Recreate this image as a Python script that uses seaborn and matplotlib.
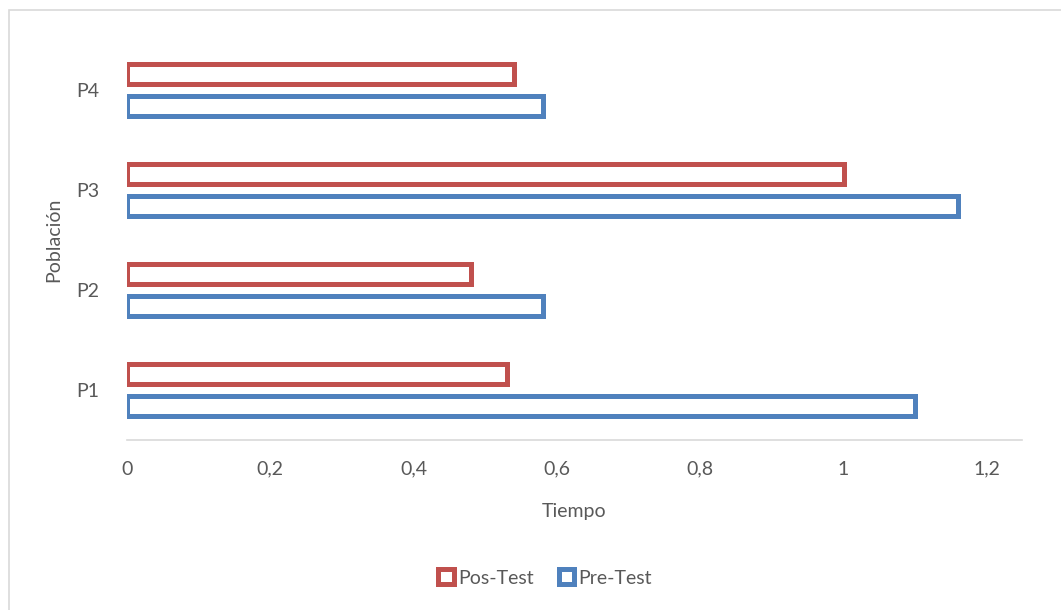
import numpy as np
import pandas as pd
import seaborn as sns
import matplotlib.pyplot as plt
from matplotlib.patches import Rectangle

poblacion = ["P4", "P3", "P2", "P1"]
pre_test = [0.58, 1.16, 0.58, 1.10]
pos_test = [0.54, 1.00, 0.48, 0.53]
xticks = [0, 0.2, 0.4, 0.6, 0.8, 1.0, 1.2]
xtick_labels = ["0", "0,2", "0,4", "0,6", "0,8", "1", "1,2"]

df = pd.DataFrame({
    "Población": poblacion * 2,
    "Tiempo": pos_test + pre_test,
    "Serie": ["Pos-Test"] * 4 + ["Pre-Test"] * 4,
})

sns.set_style("white")
plt.rcParams["font.family"] = ["Lato", "DejaVu Sans"]
gray = "#595959"
fs = 14

fig = plt.figure(figsize=(10.61, 6.10), dpi=100)
ax = fig.add_axes([127 / 1061, 1 - 440 / 610, (1022 - 127) / 1061, 400 / 610])

sns.barplot(data=df, y="Población", x="Tiempo", hue="Serie", order=poblacion,
            hue_order=["Pos-Test", "Pre-Test"],
            palette={"Pos-Test": "#C0504D", "Pre-Test": "#4F81BD"},
            orient="h", width=0.64, gap=0.375, fill=False, linewidth=3.6,
            ax=ax, legend=True)

ax.set_xlim(0, 1.249)
ax.set_ylim(3.5, -0.5)
ax.set_xticks(xticks)
ax.set_xticklabels(xtick_labels)
ax.tick_params(axis="both", length=0, labelsize=fs, labelcolor=gray, pad=15)
ax.tick_params(axis="y", pad=20)
ax.set_xlabel("Tiempo", fontsize=fs, color=gray, labelpad=18)
ax.set_ylabel("Población", fontsize=fs, color=gray, labelpad=10)
for s in ["top", "right", "left"]:
    ax.spines[s].set_visible(False)
ax.spines["bottom"].set_color("#D9D9D9")
ax.spines["bottom"].set_linewidth(1.2)

handles, labels = ax.get_legend_handles_labels()
for h in handles:
    h.set_linewidth(3.6)
ax.get_legend().remove()
fig.legend(handles, labels, loc="center", bbox_to_anchor=(545 / 1061, 1 - 578 / 610),
           ncol=2, frameon=False, fontsize=fs, labelcolor=gray,
           handlelength=0.8, handleheight=0.8, handletextpad=0.2, columnspacing=1.3)

fig.patches.append(Rectangle((9 / 1061, -0.02), 1.1, 1 - 10 / 610 + 0.02,
                             transform=fig.transFigure, fill=False,
                             edgecolor="#D9D9D9", linewidth=1.2))

fig.savefig("out.png", dpi=100)
